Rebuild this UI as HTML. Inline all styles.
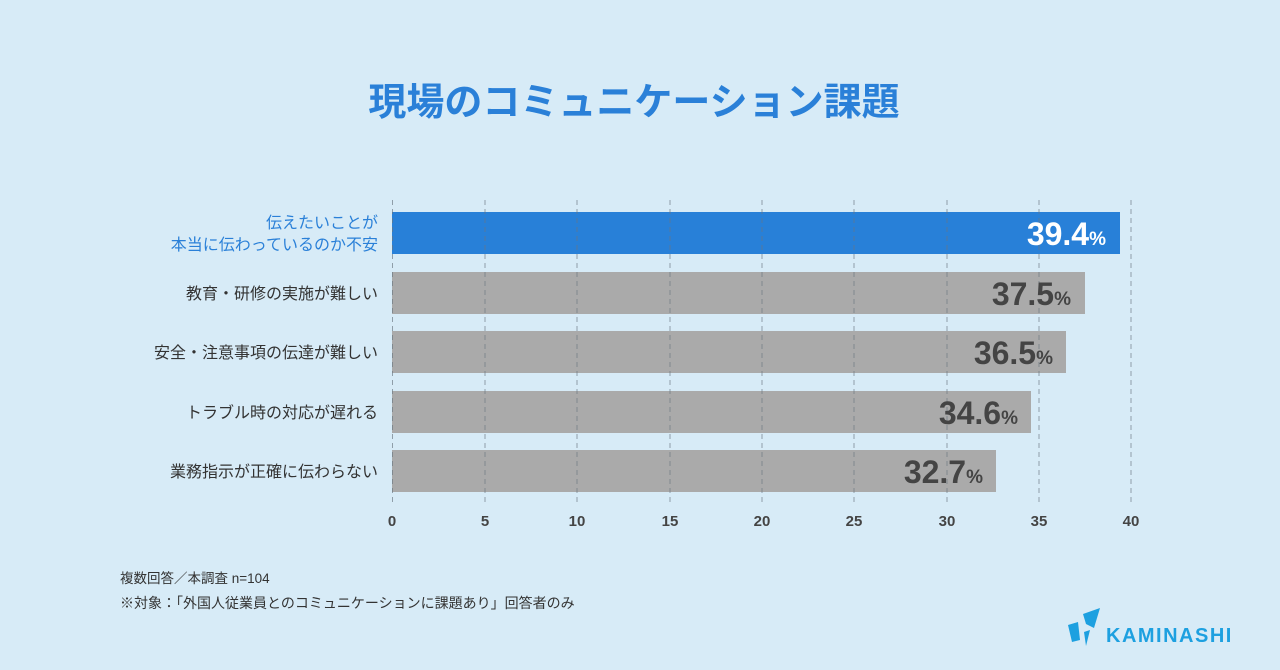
<!DOCTYPE html>
<html><head><meta charset="utf-8"><style>
body{margin:0;width:1280px;height:670px;background:#d7ebf7;overflow:hidden}
svg{display:block}
text{font-family:"Liberation Sans","Noto Sans CJK JP",sans-serif}
</style></head><body>
<svg width="1280" height="670" viewBox="0 0 1280 670">
<text x="634" y="115" text-anchor="middle" font-size="38" font-weight="bold" fill="#2a80d8">現場のコミュニケーション課題</text>
<g>
<rect x="392" y="212" width="728" height="42" fill="#2880d8"/>
<rect x="392" y="272" width="693" height="42" fill="#aaaaaa"/>
<rect x="392" y="331" width="674" height="42" fill="#aaaaaa"/>
<rect x="392" y="391" width="639" height="42" fill="#aaaaaa"/>
<rect x="392" y="450" width="604" height="42" fill="#aaaaaa"/>
</g>
<g stroke="#6a7680" stroke-width="1" stroke-dasharray="5,4" opacity="0.65">
<line x1="392.5" y1="200" x2="392.5" y2="502"/>
<line x1="485" y1="200" x2="485" y2="502"/>
<line x1="577" y1="200" x2="577" y2="502"/>
<line x1="670" y1="200" x2="670" y2="502"/>
<line x1="762" y1="200" x2="762" y2="502"/>
<line x1="854" y1="200" x2="854" y2="502"/>
<line x1="947" y1="200" x2="947" y2="502"/>
<line x1="1039" y1="200" x2="1039" y2="502"/>
<line x1="1131" y1="200" x2="1131" y2="502"/>
</g>
<g font-size="15" font-weight="bold" fill="#444" text-anchor="middle">
<text x="392" y="526">0</text><text x="485" y="526">5</text><text x="577" y="526">10</text><text x="670" y="526">15</text><text x="762" y="526">20</text><text x="854" y="526">25</text><text x="947" y="526">30</text><text x="1039" y="526">35</text><text x="1131" y="526">40</text>
</g>
<g font-size="16" text-anchor="end" fill="#333">
<text x="378" y="228" fill="#2a80d8">伝えたいことが</text>
<text x="378" y="250" fill="#2a80d8">本当に伝わっているのか不安</text>
<text x="378" y="299">教育・研修の実施が難しい</text>
<text x="378" y="358">安全・注意事項の伝達が難しい</text>
<text x="378" y="418">トラブル時の対応が遅れる</text>
<text x="378" y="477">業務指示が正確に伝わらない</text>
</g>
<g font-weight="bold" text-anchor="end">
<text x="1106" y="245" fill="#fff" font-size="32">39.4<tspan font-size="19">%</tspan></text>
<text x="1071" y="305" fill="#444" font-size="32">37.5<tspan font-size="19">%</tspan></text>
<text x="1053" y="364" fill="#444" font-size="32">36.5<tspan font-size="19">%</tspan></text>
<text x="1018" y="424" fill="#444" font-size="32">34.6<tspan font-size="19">%</tspan></text>
<text x="983" y="483" fill="#444" font-size="32">32.7<tspan font-size="19">%</tspan></text>
</g>
<text x="120" y="583" font-size="13.5" fill="#333">複数回答／本調査 n=104</text>
<text x="120" y="608" font-size="14" fill="#333">※対象：「外国人従業員とのコミュニケーションに課題あり」回答者のみ</text>
<g fill="#1da0e0">
<polygon points="1068,625 1078,622 1080,640 1072,642"/>
<polygon points="1083,614 1100,608 1094,628 1086,624"/>
<polygon points="1084,632 1090,630 1086,646"/>
</g>
<text x="1106" y="642" font-size="20" font-weight="bold" fill="#1da0e0" letter-spacing="1.5">KAMINASHI</text>
</svg>
</body></html>
